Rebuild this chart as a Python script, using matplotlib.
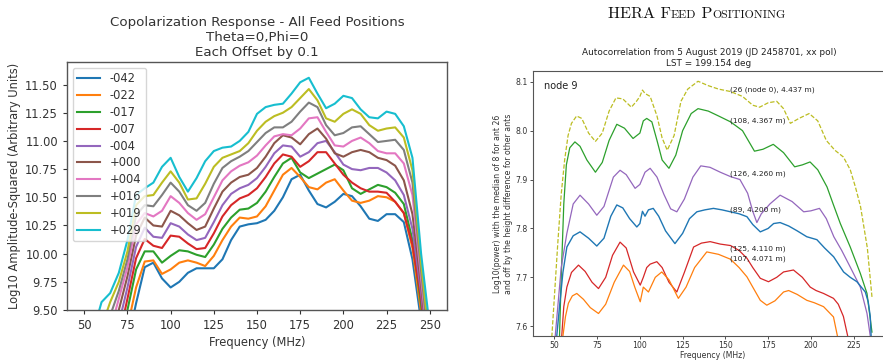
import matplotlib
matplotlib.use("Agg")
import matplotlib.pyplot as plt
from matplotlib.ticker import FormatStrFormatter

# ---------------- Left panel data (Copolarization response) ----------------
freq_left = [55, 60, 65, 70, 75, 80, 85, 90, 95, 100, 105, 110, 115, 120, 125, 130,
             135, 140, 145, 150, 155, 160, 165, 170, 175, 180, 185, 190, 195, 200,
             205, 210, 215, 220, 225, 230, 235, 240, 245, 250]

feed_labels = ["-042", "-022", "-017", "-007", "-004", "+000", "+004", "+016", "+019", "+029"]

resp_m042 = [8.0, 8.3, 8.6, 8.9, 9.2, 9.56, 9.88, 9.92, 9.78, 9.70, 9.75, 9.83, 9.87, 9.87, 9.87, 9.95,
             10.12, 10.24, 10.26, 10.27, 10.30, 10.38, 10.50, 10.66, 10.70, 10.56, 10.44, 10.41, 10.46, 10.53,
             10.51, 10.42, 10.31, 10.29, 10.35, 10.35, 10.28, 9.95, 9.40, 8.8]
resp_m022 = [8.1, 8.4, 8.7, 9.0, 9.35, 9.70, 9.93, 9.94, 9.82, 9.86, 9.92, 9.94, 9.92, 9.89, 9.98, 10.12,
             10.24, 10.32, 10.31, 10.33, 10.42, 10.56, 10.70, 10.76, 10.68, 10.59, 10.57, 10.63, 10.66, 10.56,
             10.47, 10.45, 10.47, 10.51, 10.50, 10.46, 10.36, 10.05, 9.48, 8.8]
resp_m017 = [8.2, 8.5, 8.8, 9.15, 9.5, 9.86, 10.02, 10.02, 9.92, 9.98, 10.03, 10.02, 9.99, 9.97, 10.08, 10.22,
             10.32, 10.39, 10.40, 10.45, 10.55, 10.68, 10.80, 10.85, 10.72, 10.67, 10.71, 10.75, 10.79, 10.74,
             10.58, 10.53, 10.57, 10.61, 10.59, 10.54, 10.44, 10.12, 9.55, 8.85]
resp_m007 = [8.3, 8.6, 8.9, 9.25, 9.6, 9.96, 10.13, 10.07, 10.05, 10.16, 10.15, 10.09, 10.04, 10.05, 10.18, 10.33,
             10.43, 10.49, 10.52, 10.58, 10.68, 10.80, 10.88, 10.86, 10.77, 10.82, 10.90, 10.90, 10.80, 10.70,
             10.63, 10.58, 10.55, 10.55, 10.54, 10.46, 10.36, 10.08, 9.60, 8.9]
resp_m004 = [8.4, 8.7, 9.05, 9.38, 9.7, 10.06, 10.23, 10.15, 10.14, 10.27, 10.24, 10.17, 10.12, 10.14, 10.28, 10.43,
             10.53, 10.58, 10.61, 10.67, 10.77, 10.89, 10.96, 10.95, 10.86, 10.90, 10.98, 11.00, 10.90, 10.79,
             10.75, 10.74, 10.76, 10.76, 10.72, 10.65, 10.52, 10.22, 9.65, 8.95]
resp_p000 = [8.5, 8.85, 9.2, 9.5, 9.8, 10.16, 10.32, 10.25, 10.24, 10.38, 10.34, 10.27, 10.21, 10.24, 10.40, 10.55,
             10.63, 10.68, 10.70, 10.76, 10.86, 10.98, 11.05, 11.03, 10.97, 11.06, 11.11, 11.02, 10.89, 10.86,
             10.90, 10.92, 10.90, 10.85, 10.83, 10.78, 10.65, 10.35, 9.72, 9.0]
resp_p004 = [8.6, 9.0, 9.32, 9.6, 9.88, 10.26, 10.36, 10.33, 10.38, 10.51, 10.45, 10.36, 10.30, 10.35, 10.50, 10.65,
             10.73, 10.78, 10.81, 10.87, 10.96, 11.04, 11.06, 11.05, 11.11, 11.20, 11.21, 11.08, 10.96, 10.95,
             11.00, 11.03, 10.98, 10.91, 10.89, 10.89, 10.80, 10.52, 9.78, 9.05]
resp_p016 = [8.8, 9.2, 9.45, 9.67, 9.95, 10.34, 10.43, 10.42, 10.52, 10.63, 10.55, 10.43, 10.38, 10.45, 10.62, 10.76,
             10.82, 10.86, 10.91, 10.99, 11.07, 11.12, 11.12, 11.17, 11.26, 11.34, 11.30, 11.14, 11.05, 11.07,
             11.12, 11.13, 11.06, 10.99, 11.00, 11.01, 10.92, 10.63, 9.85, 9.1]
resp_p019 = [9.0, 9.35, 9.57, 9.75, 10.02, 10.43, 10.51, 10.52, 10.63, 10.73, 10.63, 10.48, 10.49, 10.62, 10.77, 10.85,
             10.88, 10.91, 10.98, 11.09, 11.17, 11.22, 11.25, 11.30, 11.38, 11.46, 11.36, 11.20, 11.17, 11.24,
             11.28, 11.24, 11.14, 11.09, 11.11, 11.12, 11.03, 10.74, 9.92, 9.2]
resp_p029 = [9.3, 9.57, 9.65, 9.83, 10.12, 10.52, 10.58, 10.63, 10.77, 10.85, 10.68, 10.55, 10.67, 10.82, 10.91, 10.94,
             10.95, 11.00, 11.08, 11.24, 11.30, 11.32, 11.33, 11.42, 11.52, 11.56, 11.42, 11.29, 11.33, 11.40,
             11.38, 11.28, 11.21, 11.20, 11.26, 11.24, 11.13, 10.85, 10.0, 9.35]

left_series = [resp_m042, resp_m022, resp_m017, resp_m007, resp_m004,
               resp_p000, resp_p004, resp_p016, resp_p019, resp_p029]
left_colors = ["#1f77b4", "#ff7f0e", "#2ca02c", "#d62728", "#9467bd",
               "#8c564b", "#e377c2", "#7f7f7f", "#bcbd22", "#17becf"]
left_xticks = [50, 75, 100, 125, 150, 175, 200, 225, 250]
left_yticks = [9.50, 9.75, 10.00, 10.25, 10.50, 10.75, 11.00, 11.25, 11.50]

# ---------------- Right panel data (HERA autocorrelations) ----------------
f_ant26 = [48.5, 50, 52, 54, 56, 58, 60, 63, 66, 70, 74, 78, 82, 86, 90, 95, 98, 100, 101.5, 103, 106, 110,
           113, 116, 120, 124, 128, 134, 140, 146, 153, 160, 166, 170, 175, 180, 184, 188, 193, 199, 204,
           209, 214, 219, 223, 226, 229, 233, 235.7]
p_ant26 = [7.578, 7.66, 7.77, 7.87, 7.94, 7.99, 8.015, 8.03, 8.025, 7.995, 7.978, 7.995, 8.04, 8.067, 8.065,
           8.048, 8.06, 8.07, 8.083, 8.076, 8.07, 8.03, 7.985, 7.96, 7.99, 8.06, 8.085, 8.101, 8.092, 8.085,
           8.08, 8.07, 8.052, 8.048, 8.057, 8.06, 8.045, 8.015, 8.025, 8.035, 8.02, 7.98, 7.96, 7.946, 7.92,
           7.885, 7.845, 7.76, 7.66]

f_ant108 = [53, 54, 55.5, 57, 59, 62, 65, 69, 74, 78, 82, 86.5, 91, 96, 100, 102, 104, 107, 110, 113, 117,
            121, 125, 130, 134, 140, 146, 153, 160, 167, 172, 178, 184, 190.5, 195, 199.5, 204, 209.4, 213,
            217.2, 223, 228.9, 232.8, 235.7]
p_ant108 = [7.58, 7.70, 7.85, 7.93, 7.965, 7.977, 7.968, 7.94, 7.915, 7.935, 7.98, 8.013, 8.005, 7.984,
            7.995, 8.02, 8.025, 8.018, 7.98, 7.94, 7.923, 7.95, 8.0, 8.035, 8.045, 8.04, 8.03, 8.018, 8.0,
            7.958, 7.962, 7.972, 7.955, 7.926, 7.93, 7.936, 7.92, 7.885, 7.85, 7.81, 7.762, 7.708, 7.667, 7.588]

f_ant126 = [50.5, 52, 54, 57.3, 61, 65, 70, 74.8, 79, 84.5, 88.4, 92, 97.2, 100, 103, 106, 110, 114, 118,
            121.6, 126, 131, 135.6, 141, 147, 153, 158.5, 163, 166, 168.4, 171, 176, 182, 189, 195.8, 200,
            205, 209, 213.4, 218, 223, 228.9, 232.8, 234.7]
p_ant126 = [7.58, 7.64, 7.72, 7.79, 7.85, 7.868, 7.85, 7.827, 7.845, 7.905, 7.919, 7.91, 7.882, 7.89,
            7.915, 7.923, 7.905, 7.87, 7.84, 7.834, 7.86, 7.905, 7.928, 7.925, 7.915, 7.906, 7.9, 7.872,
            7.835, 7.812, 7.83, 7.85, 7.868, 7.855, 7.834, 7.836, 7.841, 7.82, 7.783, 7.755, 7.721, 7.68,
            7.626, 7.58]

f_ant89 = [51.4, 53, 55, 57.3, 61, 65, 70, 74.8, 79, 83, 86.5, 90, 94, 98.2, 100, 101.5, 103, 105, 107.8,
           111, 115, 120.5, 125, 129, 133.3, 138, 143, 148, 153, 158, 162.6, 166, 170.4, 175, 178.2, 182,
           187, 192, 197.6, 203.5, 208, 213.3, 219.1, 223, 226.9, 231.8, 233.5, 234.7, 235.2]
p_ant89 = [7.58, 7.64, 7.71, 7.762, 7.785, 7.793, 7.78, 7.764, 7.78, 7.825, 7.848, 7.842, 7.82, 7.803,
           7.81, 7.835, 7.825, 7.838, 7.841, 7.825, 7.795, 7.769, 7.79, 7.82, 7.834, 7.838, 7.841, 7.838,
           7.834, 7.83, 7.824, 7.808, 7.793, 7.8, 7.81, 7.812, 7.805, 7.795, 7.783, 7.777, 7.76, 7.742,
           7.711, 7.70, 7.691, 7.67, 7.65, 7.62, 7.58]

f_ant125 = [54.3, 55.5, 57.3, 60, 64.1, 68, 72, 75.8, 80, 84, 88.4, 92, 96.3, 100.2, 102, 104, 106, 109.9,
            113, 117, 121.6, 126, 131.4, 136, 141.1, 147, 153, 158, 162.6, 166, 170.4, 175.2, 180, 184,
            189.8, 195, 199.6, 203, 207.4, 213.2, 216, 219, 221.5]
p_ant125 = [7.58, 7.64, 7.68, 7.71, 7.725, 7.712, 7.69, 7.677, 7.70, 7.745, 7.772, 7.76, 7.711, 7.684,
            7.70, 7.72, 7.727, 7.732, 7.72, 7.69, 7.670, 7.71, 7.762, 7.77, 7.773, 7.768, 7.765, 7.755,
            7.739, 7.72, 7.698, 7.691, 7.70, 7.711, 7.715, 7.70, 7.68, 7.673, 7.667, 7.657, 7.645, 7.62, 7.58]

f_ant107 = [55, 56.5, 58.2, 60.5, 63.1, 67, 71, 75.8, 80, 85, 90.4, 94, 97, 100.2, 102, 105, 109, 112.8,
            117, 122.5, 127, 132, 139.1, 146, 153, 158, 162.6, 166, 170.4, 174.2, 179, 184, 187, 192,
            197.6, 202, 207.4, 213.2, 215.5]
p_ant107 = [7.58, 7.62, 7.647, 7.662, 7.667, 7.655, 7.638, 7.626, 7.645, 7.69, 7.725, 7.712, 7.68, 7.650,
            7.68, 7.67, 7.70, 7.711, 7.695, 7.657, 7.68, 7.72, 7.752, 7.747, 7.737, 7.72, 7.701, 7.68,
            7.653, 7.643, 7.652, 7.670, 7.673, 7.665, 7.653, 7.648, 7.64, 7.619, 7.58]

ant_labels = ["(26 (node 0), 4.437 m)", "(108, 4.367 m)", "(126, 4.260 m)",
              "(89, 4.200 m)", "(125, 4.110 m)", "(107, 4.071 m)"]
ant_label_y = [8.083, 8.02, 7.912, 7.839, 7.759, 7.739]
ant_label_x = 152.5
right_xticks = [50, 75, 100, 125, 150, 175, 200, 225]
right_yticks = [7.6, 7.7, 7.8, 7.9, 8.0, 8.1]

# ---------------- Figure ----------------
W, H = 883, 360
fig = plt.figure(figsize=(W / 100, H / 100), dpi=100)

# ---- Left panel ----
axL = fig.add_axes([67 / W, 1 - 310 / H, 380 / W, 248 / H])
for vals, lab, col in zip(left_series, feed_labels, left_colors):
    axL.plot(freq_left, vals, color=col, lw=1.5, label=lab)
axL.set_xlim(40, 260)
axL.set_ylim(9.5, 11.70)
axL.set_xticks(left_xticks)
axL.set_yticks(left_yticks)
axL.yaxis.set_major_formatter(FormatStrFormatter("%.2f"))
axL.tick_params(labelsize=8.3, length=3, width=0.8, colors="#333333")
for s in axL.spines.values():
    s.set_color("#555555")
    s.set_linewidth(1.0)
axL.set_xlabel("Frequency (MHz)", fontsize=8.3, color="#333333", labelpad=3)
axL.set_ylabel("Log10 Amplitude-Squared (Arbitrary Units)", fontsize=8.3, color="#333333", labelpad=3)
axL.set_title("Copolarization Response - All Feed Positions\nTheta=0,Phi=0\nEach Offset by 0.1",
              fontsize=9.6, color="#333333", pad=4, linespacing=1.2)
leg = axL.legend(loc="upper left", fontsize=8.3, handlelength=2.0, labelspacing=0.33,
                 borderpad=0.4, framealpha=0.8)
for t in leg.get_texts():
    t.set_color("#333333")

# ---- Right panel ----
axR = fig.add_axes([533 / W, 1 - 336 / H, 360 / W, 265 / H])
axR.plot(f_ant26, p_ant26, color="#bcbd22", lw=0.9, ls=(0, (3.5, 1.5)))
axR.plot(f_ant108, p_ant108, color="#2ca02c", lw=0.9)
axR.plot(f_ant126, p_ant126, color="#9467bd", lw=0.9)
axR.plot(f_ant89, p_ant89, color="#1f77b4", lw=1.0)
axR.plot(f_ant125, p_ant125, color="#d62728", lw=0.9)
axR.plot(f_ant107, p_ant107, color="#ff7f0e", lw=0.9)
for lab, yy in zip(ant_labels, ant_label_y):
    axR.text(ant_label_x, yy, lab, fontsize=5.4, va="center", ha="left", color="#222222")
axR.text(0.03, 0.945, "node 9", transform=axR.transAxes, fontsize=7, va="center", ha="left",
         color="#222222")
axR.set_xlim(37.5, 248)
axR.set_ylim(7.58, 8.122)
axR.set_xticks(right_xticks)
axR.set_yticks(right_yticks)
axR.tick_params(labelsize=5.6, length=2.2, width=0.6, pad=1.5, colors="#333333")
for s in axR.spines.values():
    s.set_color("#555555")
    s.set_linewidth(0.8)
axR.set_xlabel("Frequency (MHz)", fontsize=5.6, labelpad=0.5, color="#333333")
axR.set_ylabel("Log10(power) with the median of 8 for ant 26\nand off by the height difference for other ants",
               fontsize=5.6, labelpad=2, color="#333333")
fig.text(709 / W, 1 - 58 / H, "Autocorrelation from 5 August 2019 (JD 2458701, xx pol)\nLST = 199.154 deg",
         fontsize=6.4, ha="center", va="center", color="#222222", linespacing=1.2)

# ---- Small-caps header "HERA Feed Positioning" ----
pieces = [("HERA F", 11.6), ("EED", 8.6), (" P", 11.6), ("OSITIONING", 8.6)]
fig.canvas.draw()
renderer = fig.canvas.get_renderer()
texts = []
widths = []
for txt, size in pieces:
    t = fig.text(0, 0, txt, fontsize=size, family="cmr10", ha="left", va="baseline", color="#111111")
    texts.append(t)
    widths.append(t.get_window_extent(renderer).width)
total = sum(widths)
x0 = 697 - total / 2
base_y = 1 - 18 / H
for t, w in zip(texts, widths):
    t.set_position((x0 / W, base_y))
    x0 += w

fig.savefig("out.png", dpi=100)
